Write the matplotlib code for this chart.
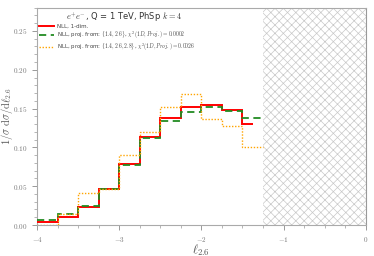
import matplotlib
matplotlib.use("Agg")
import matplotlib.pyplot as plt
from matplotlib.ticker import MultipleLocator, FuncFormatter

plt.rcParams["mathtext.fontset"] = "cm"
plt.rcParams["hatch.linewidth"] = 0.5
plt.rcParams["hatch.color"] = "#c8c8c8"

# bin edges (l_2.6)
edges = [-4.0, -3.75, -3.5, -3.25, -3.0, -2.75, -2.5, -2.25, -2.0, -1.75, -1.5, -1.25]
red_edges = [-4.0, -3.75, -3.5, -3.25, -3.0, -2.75, -2.5, -2.25, -2.0, -1.75, -1.5, -1.375]

# NLL, 1-dim.
nll_1dim = [0.004, 0.010, 0.023, 0.046, 0.079, 0.114, 0.1385, 0.152, 0.154, 0.148, 0.130]
# NLL, proj. from {1.4, 2.6}
nll_proj2 = [0.0065, 0.0147, 0.024, 0.046, 0.0775, 0.112, 0.134, 0.146, 0.1517, 0.147, 0.138]
# NLL, proj. from {1.4, 2.6, 2.8}
nll_proj3 = [0.0, 0.0147, 0.0414, 0.046, 0.090, 0.120, 0.1517, 0.169, 0.137, 0.127, 0.101]

labels = [
    "NLL, 1-dim.",
    r"NLL, proj. from: $\{1.4, 2.6\}$, $\chi^2(1D, Proj.) = 0.0002$",
    r"NLL, proj. from: $\{1.4, 2.6, 2.8\}$, $\chi^2(1D, Proj.) = 0.0026$",
]

fig = plt.figure(figsize=(3.74, 2.56), dpi=100)
ax = fig.add_axes([0.099, 0.121, 0.879, 0.849])

# excluded region
ax.axvspan(-1.25, 0, facecolor="none", edgecolor="#c8c8c8", hatch="xxxx", linewidth=0, zorder=0)

ax.stairs(nll_1dim, red_edges, baseline=None, color="red", linewidth=1.4, label=labels[0], zorder=3)
ax.stairs(nll_proj2, edges, baseline=None, color="#228B22", linewidth=1.3, linestyle=(0, (4, 2.5)),
          label=labels[1], zorder=4)
ax.stairs(nll_proj3, edges, baseline=None, color="orange", linewidth=1.0, linestyle=(0, (1, 1.2)),
          label=labels[2], zorder=5)

ax.set_xlim(-4, 0)
ax.set_ylim(0, 0.28)
ax.xaxis.set_major_locator(MultipleLocator(1))
ax.xaxis.set_minor_locator(MultipleLocator(0.25))
ax.yaxis.set_major_locator(MultipleLocator(0.05))
ax.yaxis.set_minor_locator(MultipleLocator(0.01))
ax.xaxis.set_major_formatter(FuncFormatter(lambda v, p: r"$%d$" % round(v)))
ax.yaxis.set_major_formatter(FuncFormatter(lambda v, p: r"$%.2f$" % v))

for s in ["left", "bottom", "top"]:
    ax.spines[s].set_color("#aaaaaa")
ax.spines["right"].set_color("#999999")
ax.tick_params(which="both", direction="out", colors="#999999", labelcolor="#777777", labelsize=5.2)
ax.tick_params(which="major", length=3.5, width=0.7)
ax.tick_params(which="minor", length=2, width=0.5)

ax.set_ylabel(r"$1/\sigma\ \mathrm{d}\sigma/\mathrm{d}\ell_{2.6}$", fontsize=7.5, color="#555555")
ax.set_xlabel(r"$\ell_{2.6}$", fontsize=9, color="#555555")
ax.yaxis.set_label_coords(-0.068, 0.5)
ax.xaxis.set_label_coords(0.5, -0.08)

ax.text(0.265, 0.958, r"$e^{+}e^{-}$, Q = 1 TeV, PhSp $k=4$", transform=ax.transAxes,
        ha="center", va="center", fontsize=6, color="#333333")

leg = ax.legend(loc="upper left", bbox_to_anchor=(0.005, 0.925), frameon=False, fontsize=4.0,
                handlelength=2.8, handletextpad=0.5, labelspacing=0.05, borderaxespad=0.0,
                borderpad=0.0)
for t in leg.get_texts():
    t.set_color("#444444")

fig.savefig("out.png", dpi=100)
